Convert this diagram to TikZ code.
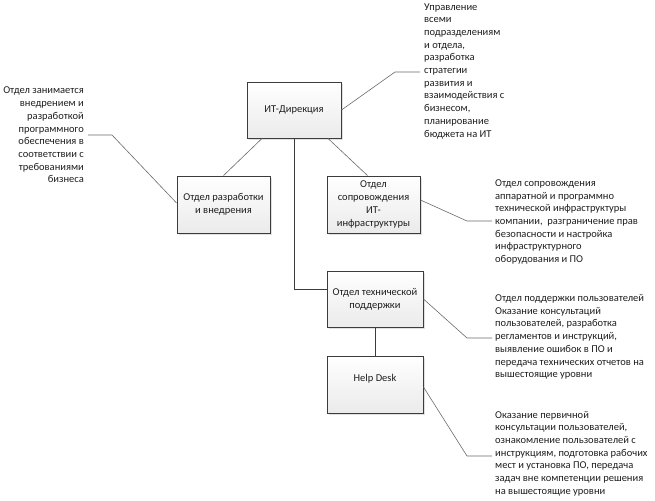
\documentclass[tikz,border=0pt]{standalone}
\usepackage{fontspec}
\setmainfont{Carlito}
\usetikzlibrary{shadows}
\definecolor{boxline}{HTML}{3C3C3C}
\definecolor{linkline}{HTML}{6A6A6A}
\definecolor{txt}{HTML}{1E1E1E}
\tikzset{
  unit/.style={draw=boxline, line width=0.9pt, top color=white, bottom color=black!8,
    drop shadow={shadow xshift=2pt, shadow yshift=-2pt, fill=black!12, opacity=1},
    align=center, inner sep=1pt, text=txt},
  note/.style={align=left, inner sep=0pt, text=txt},
  link/.style={draw=linkline, line width=0.6pt},
}
\begin{document}
\begin{tikzpicture}[x=1pt, y=-1pt, font=\fontsize{10.5}{12.7}\selectfont]
    \useasboundingbox (0,0) rectangle (655,500);
    % departments
    \node[unit, minimum width=94, minimum height=56] (dir) at (294,110) {ИТ-Дирекция};
    \node[unit, minimum width=93, minimum height=57] (dev) at (223.5,204.5) {Отдел разработки\\и внедрения};
    \node[unit, minimum width=93, minimum height=57] (sup) at (373.5,204.5) {Отдел\\сопровождения\\ИТ-\\инфраструктуры};
    \node[unit, minimum width=96, minimum height=56] (tech) at (375,299) {Отдел технической\\поддержки};
    \node[unit, minimum width=96, minimum height=57] (hd) at (375,384.5) {Help Desk\\~};
    % links between units
    \draw[link] ([xshift=-32]dir.south) -- (dev.north);
    \draw[link] ([xshift=34]dir.south) -- ([xshift=-6]sup.north);
    \draw[draw=boxline, line width=0.7pt] (dir.south) |- ([yshift=10]tech.west);
    \draw[draw=boxline, line width=0.7pt] (tech.south) -- (hd.north);
    % notes
    \coordinate (dirA) at (395,72);  \coordinate (dirB) at (420,72);
    \coordinate (devA) at (112,135); \coordinate (devB) at (88,135);
    \coordinate (supA) at (467,221); \coordinate (supB) at (492,221);
    \coordinate (techA) at (467,338); \coordinate (techB) at (492,338);
    \coordinate (hdA) at (467,456);  \coordinate (hdB) at (492,456);
    \node[note, anchor=west] (dirN) at (424,71) {Управление\\всеми\\подразделениям\\и отдела,\\разработка\\стратегии\\развития и\\взаимодействия с\\бизнесом,\\планирование\\бюджета на ИТ};
    \node[note, anchor=east, align=right] (devN) at (84,135) {Отдел занимается\\внедрением и\\разработкой\\программного\\обеспечения в\\соответствии с\\требованиями\\бизнеса};
    \node[note, anchor=west] (supN) at (495,222) {Отдел сопровождения\\аппаратной и программно\\технической инфраструктуры\\компании,\ \ разграничение прав\\безопасности и настройка\\инфраструктурного\\оборудования и ПО};
    \node[note, anchor=west] (techN) at (495,337) {Отдел поддержки пользователей\\Оказание консультаций\\пользователей, разработка\\регламентов и инструкций,\\выявление ошибок в ПО и\\передача технических отчетов на\\вышестоящие уровни};
    \node[note, anchor=west] (hdN) at (495,453.5) {Оказание первичной\\консультации пользователей,\\ознакомление пользователей с\\инструкциям, подготовка рабочих\\мест и установка ПО, передача\\задач вне компетенции решения\\на вышестоящие уровни};
    \draw[link] (dir.east) -- (dirA) -- (dirB);
    \draw[link] ([yshift=1.5]dev.west) -- (devA) -- (devB);
    \draw[link] ([yshift=4.5]sup.east) -- (supA) -- (supB);
    \draw[link] (tech.east) -- (techA) -- (techB);
    \draw[link] ([yshift=-2.5]hd.east) -- (hdA) -- (hdB);
\end{tikzpicture}
\end{document}
